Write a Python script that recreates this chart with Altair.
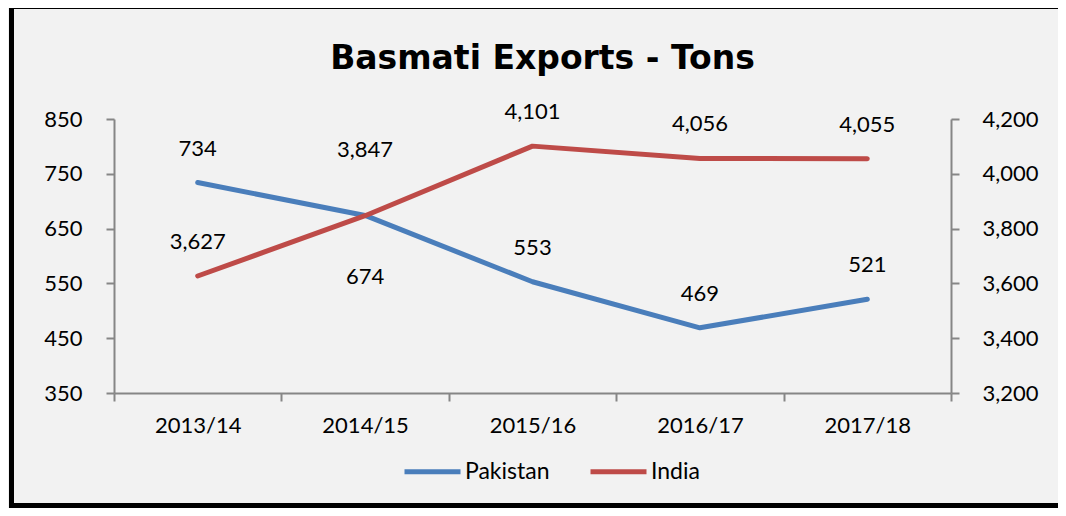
import altair as alt
import pandas as pd

years = ["2013/14", "2014/15", "2015/16", "2016/17", "2017/18"]
pakistan = [734, 674, 553, 469, 521]
india = [3627, 3847, 4101, 4056, 4055]
pak_place = ["above", "below", "above", "above", "above"]
ind_place = ["above", "far", "above", "above", "above"]

series_names = ["Pakistan", "India"]
series_colors = ["#4A7EBB", "#BE4B48"]

FONT = "Lato"

df_pak = pd.DataFrame({"year": years, "value": pakistan, "place": pak_place, "series": "Pakistan"})
df_ind = pd.DataFrame({"year": years, "value": india, "place": ind_place, "series": "India"})

x_enc = alt.X(
    "year:N",
    sort=years,
    bandPosition=0.5,
    scale=alt.Scale(type="band", paddingInner=0, paddingOuter=0),
    axis=alt.Axis(title=None, labelAngle=0, tickBand="extent", labelPadding=14),
)
color_enc = alt.Color(
    "series:N",
    scale=alt.Scale(domain=series_names, range=series_colors),
    legend=alt.Legend(
        title=None,
        orient="none",
        direction="horizontal",
        legendX=288,
        legendY=322,
        symbolType="stroke",
        symbolSize=3136,
        symbolStrokeWidth=5,
        labelOffset=2,
        columnPadding=30,
        labelFont=FONT,
        labelFontSize=23,
        labelColor="black",
    ),
)

dy_map = {"above": -34, "below": 62, "far": -66}


def series_layer(df, y_enc):
    base = alt.Chart(df).encode(x=x_enc, y=y_enc)
    line = base.mark_line(strokeWidth=5, strokeCap="round", strokeJoin="round").encode(color=color_enc)
    texts = []
    for place, dy in dy_map.items():
        if place in list(df["place"]):
            texts.append(
                base.mark_text(dy=dy, font=FONT, fontSize=22, color="black", baseline="middle")
                .encode(text=alt.Text("value:Q", format=",d"))
                .transform_filter(alt.datum.place == place)
            )
    return alt.layer(line, *texts)


pak_y = alt.Y(
    "value:Q",
    scale=alt.Scale(domain=[350, 850], nice=False, zero=False),
    axis=alt.Axis(title=None, orient="left", values=[350, 450, 550, 650, 750, 850], format="d", labelPadding=24),
)
ind_y = alt.Y(
    "value:Q",
    scale=alt.Scale(domain=[3200, 4200], nice=False, zero=False),
    axis=alt.Axis(title=None, orient="right", values=[3200, 3400, 3600, 3800, 4000, 4200], format=",d", labelPadding=23),
)

frame = alt.Chart(alt.Data(values=[{"k": 1}])).mark_rect(
    fill=None, fillOpacity=0, stroke="black", strokeWidth=5
).encode(
    x=alt.value(-102.5), x2=alt.value(975), y=alt.value(-112.5), y2=alt.value(386.5)
)

chart = (
    alt.layer(frame, series_layer(df_pak, pak_y), series_layer(df_ind, ind_y))
    .resolve_scale(y="independent")
    .properties(
        width=837,
        height=274,
        autosize=alt.AutoSizeParams(type="none"),
        padding={"left": 106, "top": 111, "right": 107, "bottom": 115},
        background="#F2F2F2",
        title=alt.TitleParams(
            "Basmati Exports - Tons",
            font="DejaVu Sans",
            fontSize=33,
            fontWeight="bold",
            color="black",
            anchor="middle",
            dx=10,
            offset=-72,
        ),
    )
    .configure_view(stroke=None)
    .configure_axis(
        grid=False,
        domainColor="#868686",
        domainWidth=2,
        tickColor="#868686",
        tickWidth=2,
        tickSize=8,
        labelFont=FONT,
        labelFontSize=22,
        labelColor="black",
    )
)

chart.save("out.html", embed_options={"renderer": "svg", "actions": False})
